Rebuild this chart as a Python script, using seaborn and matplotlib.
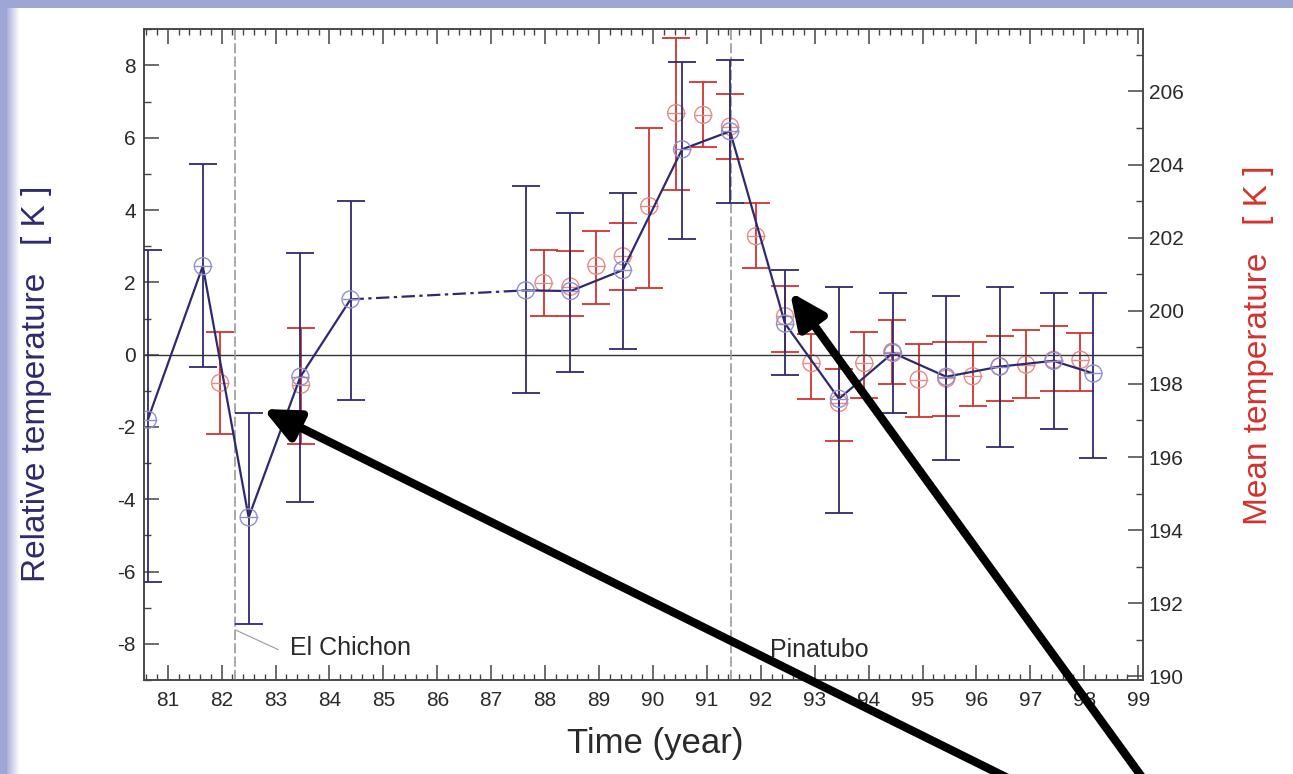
import numpy as np
import pandas as pd
import matplotlib
matplotlib.use("Agg")
import matplotlib.pyplot as plt
import seaborn as sns
from matplotlib.ticker import MultipleLocator
from matplotlib.patches import Rectangle

# ---------------- data ----------------
# Relative temperature (left axis, blue)
rel_year = [80.63, 81.65, 82.50, 83.46, 84.39, 87.64, 88.47, 89.44, 90.54, 91.43,
            92.45, 93.45, 94.45, 95.44, 96.43, 97.43, 98.17]
rel_temp = [-1.80, 2.45, -4.50, -0.61, 1.53, 1.78, 1.76, 2.34, 5.68, 6.18,
            0.86, -1.22, 0.05, -0.61, -0.33, -0.17, -0.52]
rel_hi = [2.90, 5.28, -1.62, 2.82, 4.25, 4.67, 3.92, 4.46, 8.11, 8.14,
          2.34, 1.86, 1.71, 1.62, 1.88, 1.71, 1.71]
rel_lo = [-6.28, -0.35, -7.45, -4.08, -1.25, -1.05, -0.47, 0.17, 3.21, 4.20,
          -0.56, -4.38, -1.60, -2.91, -2.56, -2.06, -2.85]

# Mean temperature (right axis, red)
mean_year = [81.97, 83.47, 87.97, 88.47, 88.95, 89.44, 89.93, 90.43, 90.93, 91.43,
             91.91, 92.45, 92.94, 93.45, 93.92, 94.44, 94.93, 95.44, 95.93, 96.43,
             96.92, 97.43, 97.93]
mean_temp = [198.03, 197.98, 200.76, 200.66, 201.23, 201.49, 202.86, 205.41, 205.36, 205.04,
             202.04, 199.85, 198.57, 197.48, 198.57, 198.88, 198.12, 198.15, 198.21, 198.48,
             198.53, 198.66, 198.66]
mean_hi = [199.41, 199.53, 201.67, 201.64, 202.17, 202.40, 205.00, 207.46, 206.27, 205.93,
           202.95, 200.69, 199.37, 198.41, 199.41, 199.76, 199.10, 199.16, 199.16, 199.30,
           199.48, 199.59, 199.39]
mean_lo = [196.63, 196.37, 199.87, 199.87, 200.19, 200.58, 200.62, 203.31, 204.48, 204.15,
           201.17, 198.86, 197.59, 196.43, 197.62, 198.00, 197.10, 197.13, 197.40, 197.52,
           197.62, 197.80, 197.80]

x_ticks = list(range(81, 100))
volcano_year = [82.25, 91.44]
volcano_name = ["El Chichon", "Pinatubo"]

# ---------------- style ----------------
sns.set_theme(style="ticks")
plt.rcParams['font.family'] = ['Liberation Sans', 'DejaVu Sans']
plt.rcParams['axes.unicode_minus'] = False

BLUE = "#2f2a6e"
BLUE_L = "#9090cc"
RED = "#d2332f"
RED_L = "#e58b88"
TXT = "#2a2a2a"
SPINE = "#444444"

fig = plt.figure(figsize=(12.93, 7.74), dpi=100)
fig.patch.set_facecolor("white")

# slide-like lavender border (top band + fading left band)
LAV = (0.62, 0.65, 0.84)
fig.patches.append(Rectangle((0, 1 - 8 / 774), 1, 8 / 774, transform=fig.transFigure,
                             facecolor=LAV, edgecolor="none", zorder=-5))
fig.patches.append(Rectangle((0, 0), 7 / 1293, 1, transform=fig.transFigure,
                             facecolor=LAV, edgecolor="none", zorder=-5))
for i in range(12):
    a = 0.85 * (1 - i / 12)
    fig.patches.append(Rectangle(((7 + i) / 1293, 0), 1 / 1293, 1 - 8 / 774,
                                 transform=fig.transFigure, facecolor=LAV,
                                 alpha=a, edgecolor="none", zorder=-5))

ax = fig.add_axes([0.1114, 0.1214, 0.7726, 0.8407])
ax2 = ax.twinx()
ax.set_zorder(ax2.get_zorder() + 1)
ax.patch.set_visible(False)

# ---- red: mean temperature on right axis ----
mean_df = pd.DataFrame({"year": mean_year, "temp": mean_temp})
m_arr = np.array(mean_temp)
ax2.errorbar(mean_year, mean_temp,
             yerr=[m_arr - np.array(mean_lo), np.array(mean_hi) - m_arr],
             fmt="none", ecolor=RED, elinewidth=1.3, capsize=10, capthick=1.3, zorder=2)
sns.scatterplot(data=mean_df, x="year", y="temp", ax=ax2, marker="o", s=150,
                facecolor="none", edgecolor=RED_L, linewidth=1.0, zorder=3, legend=False)
sns.scatterplot(data=mean_df, x="year", y="temp", ax=ax2, marker="_", s=150,
                color=RED_L, linewidth=1.0, zorder=3, legend=False)

# ---- blue: relative temperature on left axis ----
rel_df = pd.DataFrame({"year": rel_year, "temp": rel_temp})
r_arr = np.array(rel_temp)
ax.errorbar(rel_year, rel_temp,
            yerr=[r_arr - np.array(rel_lo), np.array(rel_hi) - r_arr],
            fmt="none", ecolor=BLUE, elinewidth=1.3, capsize=10, capthick=1.3, zorder=3)
seg1 = rel_df.iloc[0:5]
seg2 = rel_df.iloc[4:6]
seg3 = rel_df.iloc[5:]
for seg, ls in [(seg1, "-"), (seg2, (0, (6, 2, 1.5, 2))), (seg3, "-")]:
    sns.lineplot(data=seg, x="year", y="temp", ax=ax, sort=False, estimator=None,
                 color=BLUE, linewidth=1.6, linestyle=ls, zorder=4)
sns.scatterplot(data=rel_df, x="year", y="temp", ax=ax, marker="o", s=150,
                facecolor="none", edgecolor=BLUE_L, linewidth=1.0, zorder=5, legend=False)
sns.scatterplot(data=rel_df, x="year", y="temp", ax=ax, marker="_", s=150,
                color=BLUE_L, linewidth=1.0, zorder=5, legend=False)

# zero line
ax.axhline(0, color="#333333", linewidth=1.0, zorder=1)

# volcano markers
for vy in volcano_year:
    ax.axvline(vy, color="#9a9a9a", linewidth=1.2, linestyle=(0, (6, 2)), zorder=1)
ax.plot([82.25, 83.05], [-7.61, -8.16], color="#999999", linewidth=0.8, zorder=1)
ax.text(83.27, -8.30, volcano_name[0], fontsize=18, color=TXT, va="baseline", ha="left")
ax.text(92.18, -8.35, volcano_name[1], fontsize=18, color=TXT, va="baseline", ha="left")

# ---------------- axes ----------------
ax.set_xlim(80.56, 99.09)
ax.set_ylim(-9, 9)
ax2.set_ylim(189.9, 207.7)

ax.xaxis.set_major_locator(MultipleLocator(1))
ax.xaxis.set_minor_locator(MultipleLocator(0.2))
ax.set_xticks(x_ticks)
ax.set_xticklabels([str(t) for t in x_ticks])
ax.yaxis.set_major_locator(MultipleLocator(2))
ax.yaxis.set_minor_locator(MultipleLocator(1))
ax2.yaxis.set_major_locator(MultipleLocator(2))
ax2.yaxis.set_minor_locator(MultipleLocator(1))

ax.tick_params(axis="x", which="major", direction="in", top=True, bottom=True,
               length=11, width=1.1, colors=SPINE, labelcolor=TXT, labelsize=15, pad=8)
ax.tick_params(axis="x", which="minor", direction="in", top=True, bottom=True,
               length=4.5, width=1.0, colors=SPINE)
ax.tick_params(axis="y", which="major", direction="in", left=True, right=False,
               length=11, width=1.1, colors=SPINE, labelcolor=TXT, labelsize=15, pad=6)
ax.tick_params(axis="y", which="minor", direction="in", left=True, right=False,
               length=5, width=1.0, colors=SPINE)
ax2.tick_params(axis="y", which="major", direction="in", right=True, left=False,
                length=11, width=1.1, colors=SPINE, labelcolor=TXT, labelsize=15, pad=4)
ax2.tick_params(axis="y", which="minor", direction="in", right=True, left=False,
                length=5, width=1.0, colors=SPINE)

for a in (ax, ax2):
    for sp in a.spines.values():
        sp.set_visible(True)
        sp.set_color(SPINE)
        sp.set_linewidth(1.1)

ax.set_xlabel("Time (year)", fontsize=25, color=TXT)
ax.xaxis.set_label_coords(0.512, -0.072)
ax.set_ylabel("Relative temperature   [ K ]", fontsize=24, color=BLUE)
ax.yaxis.set_label_coords(-0.092, 0.456)
ax2.set_ylabel("Mean temperature   [ K ]", fontsize=24, color=RED)
ax2.yaxis.set_label_coords(1.100, 0.515)

# ---------------- big black arrows ----------------
for tip, tail in [((263, 365), (1040, -20)), ((790, 482), (1160, -28))]:
    fig.add_artist(matplotlib.patches.FancyArrowPatch(
        posA=tail, posB=tip, transform=None,
        arrowstyle="-|>,head_length=0.7,head_width=0.32",
        mutation_scale=30, linewidth=6, color="black",
        shrinkA=0, shrinkB=0, zorder=20))

fig.savefig("out.png", dpi=100)
